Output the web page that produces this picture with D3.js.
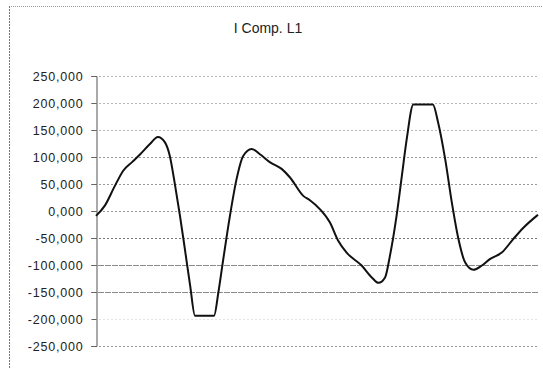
<!DOCTYPE html>
<html>
<head>
<meta charset="utf-8">
<script src="https://cdnjs.cloudflare.com/ajax/libs/d3/7.8.5/d3.min.js"></script>
<style>
  body { margin: 0; background: #fff; }
  svg { display: block; }
</style>
</head>
<body>
<script>
'use strict';

// time position along the trace (0 - 100 % of the window)
const timePoints = [0, 2.0, 4.3, 6.2, 8.1, 10.0, 12.2, 14.0, 15.6, 16.7, 17.9, 19.0, 20.1, 21.3,
  22.4, 26.7, 27.7, 28.8, 30.3, 31.8, 33.3, 35.2, 37.1, 39.4, 42.0, 43.9, 46.9, 48.4, 50.7,
  52.9, 54.8, 56.7, 60.1, 62.4, 63.9, 65.4, 66.5, 68.0, 69.2, 70.3, 71.8, 76.2, 77.4, 79.0,
  80.5, 82.0, 83.5, 85.4, 87.3, 89.1, 91.8, 94.4, 96.7, 99.7, 100];

// current of the L1 component
const currentL1 = [-9, 10, 47, 75, 90, 105, 124, 137, 127, 102, 47, -9, -70, -138,
  -194, -194, -150, -89, -9, 59, 102, 115, 105, 90, 78, 62, 28, 20, 3,
  -21, -55, -77, -101, -123, -133, -123, -83, -9, 65, 133, 197, 197, 164, 96,
  16, -52, -95, -109, -101, -89, -77, -52, -31, -9, -7];

const yTicks = [250, 200, 150, 100, 50, 0, -50, -100, -150, -200, -250];
const chartTitle = "I Comp. L1";

(function() {

  let svgContainer = "";

  const measurements = {
    width: 543,
    height: 368,
    left: 96,
    right: 538,
    top: 76,
    bottom: 346
  };

  // comma as decimal mark, like the original sheet
  const locale = d3.formatLocale({
    decimal: ",", thousands: ".", grouping: [3], currency: ["", ""], minus: "-"
  });
  const tickFormat = locale.format(".3f");

  window.onload = function() {
    svgContainer = d3.select('body')
      .append('svg')
      .attr('width', measurements.width)
      .attr('height', measurements.height);

    drawFrame();
    let map = drawAxes();
    plotData(map);
    makeLabels();
  };

  // dashed chart area border (top and left visible in the scan)
  function drawFrame() {
    svgContainer.append('line')
      .attr('x1', 9).attr('y1', 6.5).attr('x2', measurements.width).attr('y2', 6.5)
      .attr('stroke', '#999').attr('stroke-width', 1)
      .attr('stroke-dasharray', '1,1');
    svgContainer.append('line')
      .attr('x1', 9.5).attr('y1', 6).attr('x2', 9.5).attr('y2', measurements.height)
      .attr('stroke', '#777').attr('stroke-width', 1)
      .attr('stroke-dasharray', '2,1');
  }

  function gridColor(v) {
    if (v === -100 || v === -150) return '#8a8a8a';
    if (v === -50) return '#777';
    if (v === -200) return '#e4e4e4';
    if (v >= 150) return '#b8b8b8';
    return '#999';
  }

  function drawAxes() {
    let xScale = d3.scaleLinear()
      .domain([0, 100])
      .range([measurements.left, measurements.right]);

    let yScale = d3.scaleLinear()
      .domain([-250, 250])
      .range([measurements.bottom, measurements.top]);

    // horizontal gridlines
    svgContainer.append('g')
      .selectAll('line')
      .data(yTicks)
      .enter()
      .append('line')
        .attr('x1', measurements.left - 5)
        .attr('x2', measurements.right)
        .attr('y1', (d) => Math.round(yScale(d)) + 0.5)
        .attr('y2', (d) => Math.round(yScale(d)) + 0.5)
        .attr('stroke', (d) => gridColor(d))
        .attr('stroke-width', 1)
        .attr('stroke-dasharray', (d) => (d === -100 || d === -150) ? '6,1' : '2,2');

    let yAxis = d3.axisLeft(yScale)
      .tickValues(yTicks)
      .tickFormat(tickFormat)
      .tickSize(5)
      .tickPadding(8);

    let g = svgContainer.append('g')
      .attr('transform', 'translate(' + (measurements.left + 0.5) + ', 0)')
      .call(yAxis);
    g.select('.domain').attr('stroke', '#555');
    g.selectAll('.tick line').attr('stroke', '#666');
    g.selectAll('.tick text')
      .attr('fill', '#222')
      .style('font-family', '"Liberation Sans", Arial, sans-serif')
      .style('font-size', '12.5px')
      .style('letter-spacing', '0.8px');

    return { xScale: xScale, yScale: yScale };
  }

  function plotData(map) {
    let points = timePoints.map((t, i) => ({ t: t, v: currentL1[i] }));

    svgContainer.append('path')
      .datum(points)
      .attr('fill', 'none')
      .attr('stroke', '#111')
      .attr('stroke-width', 2)
      .attr('stroke-linejoin', 'round')
      .attr('d', d3.line()
        .curve(d3.curveMonotoneX)
        .x((d) => map.xScale(d.t))
        .y((d) => map.yScale(d.v)));
  }

  function makeLabels() {
    svgContainer.append('text')
      .attr('x', 268)
      .attr('y', 33)
      .attr('text-anchor', 'middle')
      .style('font-family', '"Liberation Sans", Arial, sans-serif')
      .style('font-size', '14px')
      .attr('fill', '#222')
      .text(chartTitle);
  }

})();
</script>
</body>
</html>
